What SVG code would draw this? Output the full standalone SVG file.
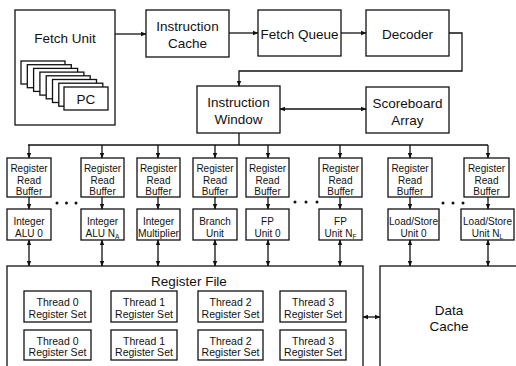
<svg xmlns="http://www.w3.org/2000/svg" width="516" height="366" viewBox="0 0 516 366">
<defs>
<style>
rect{fill:#fff;stroke:#111;stroke-width:1.3}
text{font-family:"Liberation Sans",Arial,sans-serif;fill:#111;text-anchor:middle}
.L{font-size:13.5px}
.S{font-size:10px}
.T{font-size:10.5px}
.c line,.c polyline{stroke:#111;stroke-width:1.3;fill:none}
.sub{font-size:6.5px}
</style>
<marker id="a" markerWidth="6" markerHeight="6" refX="5" refY="3" orient="auto-start-reverse" markerUnits="userSpaceOnUse">
<path d="M0,0.8 L5.5,3 L0,5.2 Z" fill="#111"/>
</marker>
</defs>
<rect x="0" y="0" width="516" height="366" style="stroke:none;fill:#fff"/>

<g id="fetch-unit">
<rect x="15" y="10" width="100" height="115"/>
<text class="L" x="65" y="43">Fetch Unit</text>
<rect x="21" y="61" width="44" height="23"/>
<rect x="27.3" y="64.7" width="44" height="23"/>
<rect x="33.6" y="68.4" width="44" height="23"/>
<rect x="39.9" y="72.1" width="44" height="23"/>
<rect x="46.2" y="75.8" width="44" height="23"/>
<rect x="52.5" y="79.5" width="44" height="23"/>
<rect x="58.8" y="83.2" width="44" height="23"/>
<rect x="64" y="87" width="44" height="23"/>
<text class="L" x="86" y="103.5">PC</text>
</g>

<g id="instruction-cache">
<rect x="146" y="10" width="83" height="47"/>
<text class="L" x="187.5" y="31">Instruction</text>
<text class="L" x="187.5" y="47.5">Cache</text>
</g>

<g id="fetch-queue">
<rect x="258" y="10" width="83" height="46"/>
<text class="L" x="299.5" y="38.5">Fetch Queue</text>
</g>

<g id="decoder">
<rect x="366" y="10" width="83" height="46"/>
<text class="L" x="407.5" y="38.5">Decoder</text>
</g>

<g id="instruction-window">
<rect x="197" y="86" width="83" height="47"/>
<text class="L" x="238.5" y="107">Instruction</text>
<text class="L" x="238.5" y="124">Window</text>
</g>

<g id="scoreboard-array">
<rect x="366" y="87" width="83" height="46"/>
<text class="L" x="407.5" y="108">Scoreboard</text>
<text class="L" x="407.5" y="124.5">Array</text>
</g>

<g id="rrb-1"><rect x="7" y="158" width="44" height="39"/><text class="S" x="29" y="171.5">Register</text><text class="S" x="29" y="183.5">Read</text><text class="S" x="29" y="195">Buffer</text></g>
<g id="rrb-2"><rect x="81" y="158" width="43" height="39"/><text class="S" x="102.5" y="171.5">Register</text><text class="S" x="102.5" y="183.5">Read</text><text class="S" x="102.5" y="195">Buffer</text></g>
<g id="rrb-3"><rect x="137" y="158" width="43" height="39"/><text class="S" x="158.5" y="171.5">Register</text><text class="S" x="158.5" y="183.5">Read</text><text class="S" x="158.5" y="195">Buffer</text></g>
<g id="rrb-4"><rect x="193" y="158" width="44" height="39"/><text class="S" x="215" y="171.5">Register</text><text class="S" x="215" y="183.5">Read</text><text class="S" x="215" y="195">Buffer</text></g>
<g id="rrb-5"><rect x="246" y="158" width="43" height="39"/><text class="S" x="267.5" y="171.5">Register</text><text class="S" x="267.5" y="183.5">Read</text><text class="S" x="267.5" y="195">Buffer</text></g>
<g id="rrb-6"><rect x="319" y="158" width="43" height="39"/><text class="S" x="340.5" y="171.5">Register</text><text class="S" x="340.5" y="183.5">Read</text><text class="S" x="340.5" y="195">Buffer</text></g>
<g id="rrb-7"><rect x="388" y="158" width="44" height="39"/><text class="S" x="410" y="171.5">Register</text><text class="S" x="410" y="183.5">Read</text><text class="S" x="410" y="195">Buffer</text></g>
<g id="rrb-8"><rect x="464" y="158" width="45" height="39"/><text class="S" x="486.5" y="171.5">Register</text><text class="S" x="486.5" y="183.5">Read</text><text class="S" x="486.5" y="195">Buffer</text></g>

<g id="int-alu-0"><rect x="7" y="209" width="44" height="31"/><text class="S" x="29" y="225">Integer</text><text class="S" x="29" y="237">ALU 0</text></g>
<g id="int-alu-n"><rect x="81" y="209" width="43" height="31"/><text class="S" x="102.5" y="225">Integer</text><text class="S" x="102.5" y="237">ALU N<tspan class="sub" dy="2">A</tspan></text></g>
<g id="int-mult"><rect x="137" y="209" width="43" height="31"/><text class="S" x="158.5" y="225">Integer</text><text class="S" x="158.5" y="237" textLength="41" lengthAdjust="spacingAndGlyphs">Multiplier</text></g>
<g id="branch-unit"><rect x="193" y="209" width="44" height="31"/><text class="S" x="215" y="225">Branch</text><text class="S" x="215" y="237">Unit</text></g>
<g id="fp-unit-0"><rect x="246" y="209" width="43" height="31"/><text class="S" x="267.5" y="225">FP</text><text class="S" x="267.5" y="237">Unit 0</text></g>
<g id="fp-unit-n"><rect x="319" y="209" width="43" height="31"/><text class="S" x="340.5" y="225">FP</text><text class="S" x="340.5" y="237">Unit N<tspan class="sub" dy="2">F</tspan></text></g>
<g id="ls-unit-0"><rect x="388" y="209" width="51" height="31"/><text class="S" x="413.5" y="225">Load/Store</text><text class="S" x="413.5" y="237">Unit 0</text></g>
<g id="ls-unit-n"><rect x="461" y="209" width="53" height="31"/><text class="S" x="487.5" y="225">Load/Store</text><text class="S" x="487.5" y="237">Unit N<tspan class="sub" dy="2">L</tspan></text></g>

<g id="dots" fill="#111">
<circle cx="57" cy="203" r="1.5"/><circle cx="66.5" cy="203" r="1.5"/><circle cx="76" cy="203" r="1.5"/>
<circle cx="295" cy="202" r="1.5"/><circle cx="306" cy="202" r="1.5"/><circle cx="317" cy="202" r="1.5"/>
<circle cx="443" cy="203" r="1.5"/><circle cx="453" cy="203" r="1.5"/><circle cx="463" cy="203" r="1.5"/>
</g>

<g id="register-file">
<rect x="7" y="266" width="356" height="110"/>
<text class="L" x="189" y="285.5">Register File</text>
</g>
<g id="t0a"><rect x="24" y="291" width="67" height="31"/><text class="T" x="57.5" y="305.5">Thread 0</text><text class="T" x="57.5" y="317.5">Register Set</text></g>
<g id="t1a"><rect x="111" y="291" width="66" height="31"/><text class="T" x="144" y="305.5">Thread 1</text><text class="T" x="144" y="317.5">Register Set</text></g>
<g id="t2a"><rect x="198" y="291" width="65" height="31"/><text class="T" x="230.5" y="305.5">Thread 2</text><text class="T" x="230.5" y="317.5">Register Set</text></g>
<g id="t3a"><rect x="280" y="291" width="66" height="31"/><text class="T" x="313" y="305.5">Thread 3</text><text class="T" x="313" y="317.5">Register Set</text></g>
<g id="t0b"><rect x="24" y="330" width="67" height="30"/><text class="T" x="57.5" y="344.5">Thread 0</text><text class="T" x="57.5" y="356">Register Set</text></g>
<g id="t1b"><rect x="111" y="330" width="66" height="30"/><text class="T" x="144" y="344.5">Thread 1</text><text class="T" x="144" y="356">Register Set</text></g>
<g id="t2b"><rect x="198" y="330" width="65" height="30"/><text class="T" x="230.5" y="344.5">Thread 2</text><text class="T" x="230.5" y="356">Register Set</text></g>
<g id="t3b"><rect x="280" y="330" width="66" height="30"/><text class="T" x="313" y="344.5">Thread 3</text><text class="T" x="313" y="356">Register Set</text></g>

<g id="data-cache">
<rect x="380" y="266" width="150" height="110"/>
<text class="L" x="449" y="315">Data</text>
<text class="L" x="449" y="330.5">Cache</text>
</g>

<g id="connectors" class="c">
<line x1="115" y1="34" x2="146" y2="34" marker-end="url(#a)"/>
<line x1="229" y1="33" x2="258" y2="33" marker-end="url(#a)"/>
<line x1="341" y1="33" x2="366" y2="33" marker-end="url(#a)"/>
<polyline points="449,33 462,33 462,71 239,71 239,86" marker-end="url(#a)"/>
<line x1="280" y1="109" x2="366" y2="109" marker-start="url(#a)" marker-end="url(#a)"/>
<line x1="239" y1="133" x2="239" y2="145"/>
<line x1="28" y1="145" x2="488" y2="145"/>
<line x1="29" y1="145" x2="29" y2="158" marker-end="url(#a)"/>
<line x1="102" y1="145" x2="102" y2="158" marker-end="url(#a)"/>
<line x1="158" y1="145" x2="158" y2="158" marker-end="url(#a)"/>
<line x1="215" y1="145" x2="215" y2="158" marker-end="url(#a)"/>
<line x1="268" y1="145" x2="268" y2="158" marker-end="url(#a)"/>
<line x1="340" y1="145" x2="340" y2="158" marker-end="url(#a)"/>
<line x1="410" y1="145" x2="410" y2="158" marker-end="url(#a)"/>
<line x1="488" y1="145" x2="488" y2="158" marker-end="url(#a)"/>
<line x1="29" y1="197" x2="29" y2="209" marker-end="url(#a)"/>
<line x1="102" y1="197" x2="102" y2="209" marker-end="url(#a)"/>
<line x1="158" y1="197" x2="158" y2="209" marker-end="url(#a)"/>
<line x1="215" y1="197" x2="215" y2="209" marker-end="url(#a)"/>
<line x1="268" y1="197" x2="268" y2="209" marker-end="url(#a)"/>
<line x1="340" y1="197" x2="340" y2="209" marker-end="url(#a)"/>
<line x1="410" y1="197" x2="410" y2="209" marker-end="url(#a)"/>
<line x1="488" y1="197" x2="488" y2="209" marker-end="url(#a)"/>
<line x1="29" y1="240" x2="29" y2="266" marker-start="url(#a)" marker-end="url(#a)"/>
<line x1="102" y1="240" x2="102" y2="266" marker-start="url(#a)" marker-end="url(#a)"/>
<line x1="158" y1="240" x2="158" y2="266" marker-start="url(#a)" marker-end="url(#a)"/>
<line x1="215" y1="240" x2="215" y2="266" marker-start="url(#a)" marker-end="url(#a)"/>
<line x1="268" y1="240" x2="268" y2="266" marker-start="url(#a)" marker-end="url(#a)"/>
<line x1="340" y1="240" x2="340" y2="266" marker-start="url(#a)" marker-end="url(#a)"/>
<line x1="410" y1="240" x2="410" y2="266" marker-start="url(#a)" marker-end="url(#a)"/>
<line x1="488" y1="240" x2="488" y2="266" marker-start="url(#a)" marker-end="url(#a)"/>
<line x1="363" y1="317" x2="380" y2="317" marker-start="url(#a)" marker-end="url(#a)"/>
</g>
</svg>
